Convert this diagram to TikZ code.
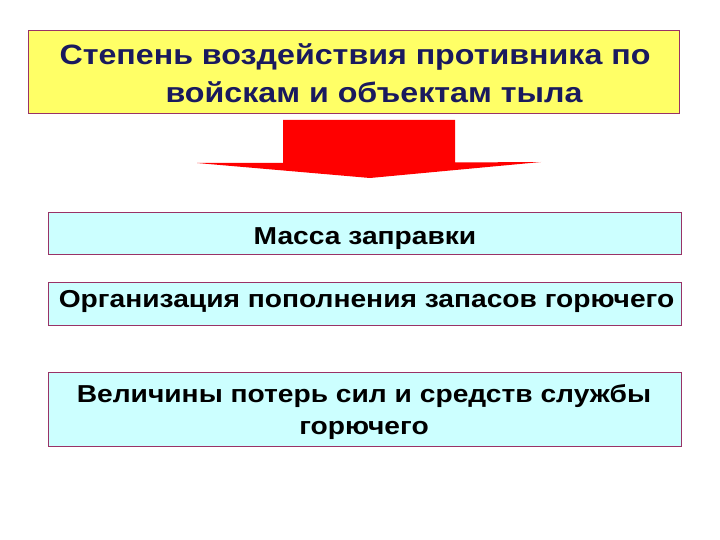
\documentclass[tikz,border=0pt]{standalone}
\usepackage{fontspec}
\setmainfont{Liberation Sans}
\newfontfamily\widefont[FakeStretch=1.15]{Liberation Sans}
\definecolor{ybox}{HTML}{FFFF66}
\definecolor{cbox}{HTML}{CCFFFF}
\definecolor{edge}{HTML}{993366}
\definecolor{navy}{HTML}{1A1A5E}
\definecolor{arrowred}{HTML}{FF0000}
\begin{document}
\begin{tikzpicture}[x=1pt,y=-1pt,
  boxs/.style={draw=edge, line width=0.8pt},
  txt/.style={font=\widefont\fontsize{24.5}{28}\selectfont\bfseries, inner sep=0pt, anchor=base},
  ttl/.style={font=\widefont\fontsize{28}{32}\selectfont\bfseries, text=navy, inner sep=0pt, anchor=base}]
\useasboundingbox (0,0) rectangle (720,540);
\fill[white] (0,0) rectangle (720,540);
% title box
\draw[boxs, fill=ybox] (28,30) rectangle (679,113);
\node[ttl] (t1) at (355,65) {Степень воздействия противника по};
\node[ttl] (t2) at (374,103) {войскам и объектам тыла};
% arrow
\fill[arrowred] (283,120) -- (455,120) -- (455,162.5) -- (541,162) -- (370,178) -- (197,163) -- (283,163) -- cycle;
% boxes
\draw[boxs, fill=cbox] (48,212) rectangle (681,254);
\node[txt] (b1) at (365,244) {Масса заправки};
\draw[boxs, fill=cbox] (48,282) rectangle (681,325);
\node[txt] (b2) at (366.5,307) {Организация пополнения запасов горючего};
\draw[boxs, fill=cbox] (48,372) rectangle (681,446);
\node[txt] (b3a) at (364,402) {Величины потерь сил и средств службы};
\node[txt] (b3b) at (364,434) {горючего};
\end{tikzpicture}
\end{document}
